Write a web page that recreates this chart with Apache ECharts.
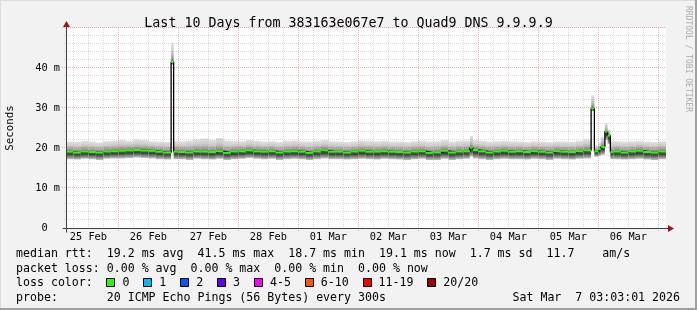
<!DOCTYPE html>
<html><head><meta charset="utf-8">
<script src="https://cdn.jsdelivr.net/npm/echarts@6/dist/echarts.min.js"></script>
<style>html,body{margin:0;padding:0;background:#f2f2f2}#c{width:697px;height:310px}</style>
</head><body><div id="c"></div>
<script>
// ---------- data (hours since 25 Feb 2026 00:00) ----------
const titleText = 'Last 10 Days from 383163e067e7 to Quad9 DNS 9.9.9.9';
const tStart = 3.05, tEnd = 243.05;
const yMax = 50;
const dayLabelHours = [12, 36, 60, 84, 108, 132, 156, 180, 204, 228];
const dayLabels = ['25 Feb','26 Feb','27 Feb','28 Feb','01 Mar','02 Mar','03 Mar','04 Mar','05 Mar','06 Mar'];
const gridHours = [6,12,18,24,30,36,42,48,54,60,66,72,78,84,90,96,102,108,114,120,126,132,138,144,150,156,162,168,174,180,186,192,198,204,210,216,222,228,234,240];
const gridValues = [2,4,6,8,10,12,14,16,18,20,22,24,26,28,30,32,34,36,38,40,42,44,46,48,50];

// segment start times (h) and per-segment median / smoke envelope (ms)
const segStart = [3.05,6,9,12,15,18,21,24,27,30,33,36,39,42,45.1,46.1,48,51,54,57,60,63,66,69,72,75,78,81,84,87,90,93,96,99,102,105,108,111,114,117,120,123,126,129,132,135,138,141,144,147,150,153,156,159,162,164.6,165.8,168,171,174,177,180,183,186,189,192,195,198,201,204,207,210,213.1,214.4,216.0,217.0,218.6,219.7,220.8,222,225,228,231,234,237,240];
const median   = [19.1,18.9,19.1,19.0,18.9,19.1,19.2,19.3,19.4,19.5,19.4,19.3,19.1,18.9,41.5,19.1,19.0,18.9,19.1,19.1,19.0,19.2,18.8,19.1,19.2,19.4,19.2,19.1,19.2,18.9,19.1,19.2,19.1,18.8,19.1,19.4,19.1,19.1,18.9,19.1,19.3,19.1,19.1,19.2,19.1,19.0,18.9,19.1,19.2,18.8,18.9,19.3,18.9,19.1,19.2,20.1,19.5,19.2,18.9,19.1,19.3,19.1,19.2,19.0,19.2,19.1,18.9,19.2,19.1,19.0,19.2,19.4,29.9,19.2,19.7,20.3,24.1,23.1,19.0,19.1,18.9,19.1,19.3,19.0,18.9,19.1];
const smokeLo  = [17.2,17.1,17.3,17.2,17.0,17.3,17.4,17.4,17.5,17.6,17.5,17.4,17.2,17.1,40.8,17.2,17.2,17.0,17.3,17.2,17.1,17.3,17.0,17.2,17.3,17.5,17.3,17.2,17.3,17.0,17.2,17.3,17.2,17.0,17.2,17.4,17.2,17.2,17.1,17.2,17.3,17.2,17.1,17.3,17.2,17.1,17.0,17.2,17.3,17.0,17.0,17.3,17.0,17.2,17.3,17.9,17.4,17.2,17.0,17.2,17.3,17.2,17.2,17.1,17.3,17.2,17.0,17.3,17.2,17.1,17.3,17.4,29.2,17.8,18.0,18.3,22.0,21.0,17.2,17.2,17.1,17.2,17.3,17.1,17.0,17.2];
const smokeHi  = [21.6,21.5,21.8,21.6,21.4,21.7,21.9,22.0,21.8,22.1,22.0,21.7,21.6,21.5,46.3,21.8,21.7,21.9,22.2,22.4,22.0,22.5,21.9,21.8,21.7,22.0,21.8,21.6,21.7,21.5,21.8,21.9,21.7,21.6,21.8,22.0,21.7,21.6,21.5,21.7,21.9,21.8,21.7,21.8,21.6,21.6,21.5,21.7,21.8,21.6,21.7,22.0,21.6,21.8,21.9,23.0,22.0,21.8,21.6,21.7,21.8,21.7,21.6,21.5,21.7,21.6,21.5,21.7,21.6,21.5,21.8,22.1,33.2,20.7,21.4,22.8,26.2,24.6,21.6,21.7,21.6,21.7,21.8,21.6,21.5,21.7];

const legendLine1 = 'median rtt:  19.2 ms avg  41.5 ms max  18.7 ms min  19.1 ms now  1.7 ms sd  11.7    am/s';
const legendLine2 = 'packet loss: 0.00 % avg  0.00 % max  0.00 % min  0.00 % now';
const lossLabels = ['0','1','2','3','4-5','6-10','11-19','20/20'];
const lossColors = ['#26ff00','#00b8ff','#0059ff','#5e00ff','#ff00ff','#ff5500','#ff0000','#a10000'];
const probeText = 'probe:       20 ICMP Echo Pings (56 Bytes) every 300s';
const dateText = 'Sat Mar  7 03:03:01 2026';
const watermark = 'RRDTOOL / TOBI OETIKER';

// ---------- chart ----------
const MONO = '"DejaVu Sans Mono", monospace';
const segs = segStart.map((s, i) => [s, i + 1 < segStart.length ? segStart[i + 1] : tEnd, median[i], smokeLo[i], smokeHi[i]]);
const stepData = segStart.map((s, i) => [s, median[i]]).concat([[tEnd, median[median.length - 1]]]);

function smokeFill(m) {
  const b = 1 - m;
  return new echarts.graphic.LinearGradient(0, 0, 0, 1, [
    {offset: 0, color: '#e2e2e2'},
    {offset: m * 0.4, color: '#cbcbcb'},
    {offset: m * 0.75, color: '#a2a2a2'},
    {offset: m, color: '#686868'},
    {offset: m + b * 0.35, color: '#3c3c3c'},
    {offset: m + b * 0.7, color: '#878787'},
    {offset: 1, color: '#c2c2c2'}
  ]);
}
const crisp = v => Math.round(v) + 0.5;

const chart = echarts.init(document.getElementById('c'), null, {renderer: 'canvas'});
const option = {
  animation: false,
  backgroundColor: '#f2f2f2',
  title: {text: titleText, left: 'center', top: 12,
    textStyle: {fontFamily: MONO, fontSize: 13.3, fontWeight: 'normal', color: '#000'}},
  grid: {left: 66, right: 31, top: 28, bottom: 82, show: true, backgroundColor: '#ffffff', borderWidth: 0},
  xAxis: {type: 'value', min: tStart, max: tEnd,
    axisLine: {show: false}, axisTick: {show: false}, splitLine: {show: false},
    axisLabel: {customValues: dayLabelHours, margin: 4, fontFamily: MONO, fontSize: 10.3, color: '#000',
      formatter: v => { const i = dayLabelHours.indexOf(v); return i >= 0 ? dayLabels[i] : ''; }}},
  yAxis: {type: 'value', min: 0, max: yMax, interval: 10,
    axisLine: {show: false}, axisTick: {show: false}, splitLine: {show: false},
    axisLabel: {margin: 6, fontFamily: MONO, fontSize: 10.3, color: '#000',
      formatter: v => v === 0 ? '0  ' : (v >= yMax ? '' : v + ' m')}},
  series: [
    {type: 'custom', name: 'smoke', z: 2, silent: true, data: segs, encode: {x: [0, 1], y: [2, 3, 4]},
      renderItem: (p, api) => {
        const s = api.value(0), e = api.value(1), med = api.value(2), lo = api.value(3), hi = api.value(4);
        const a = api.coord([s, hi]), b = api.coord([e, lo]);
        return {type: 'rect', shape: {x: a[0], y: a[1], width: b[0] - a[0], height: b[1] - a[1]},
          style: {fill: smokeFill((hi - med) / (hi - lo))}};
      }},
    {type: 'custom', name: 'vgrid', z: 3, silent: true, data: gridHours.map(h => [h, 0]), encode: {x: 0, y: 1},
      renderItem: (p, api) => {
        const h = api.value(0);
        const top = api.coord([h, yMax]), bot = api.coord([h, 0]);
        const major = h % 24 === 0;
        const x = crisp(top[0]);
        return {type: 'line', shape: {x1: x, y1: top[1], x2: x, y2: bot[1] + (major ? 3 : 2)},
          style: {stroke: major ? 'rgba(222,80,80,0.45)' : 'rgba(143,143,143,0.32)', lineWidth: 1, lineDash: [1, 1]}};
      }},
    {type: 'custom', name: 'hgrid', z: 3, silent: true, data: gridValues.map(v => [tStart, v]), encode: {x: 0, y: 1},
      renderItem: (p, api) => {
        const v = api.value(1);
        const l = api.coord([tStart, v]), r = api.coord([tEnd, v]);
        const major = v % 10 === 0;
        const y = crisp(l[1]) - 1;
        return {type: 'line', shape: {x1: l[0] - (major ? 4 : 2), y1: y, x2: r[0], y2: y},
          style: {stroke: major ? 'rgba(222,80,80,0.45)' : 'rgba(143,143,143,0.32)', lineWidth: 1, lineDash: [1, 1]}};
      }},
    {type: 'line', name: 'median-step', z: 4, silent: true, step: 'end', showSymbol: false, symbol: 'none',
      data: stepData, lineStyle: {color: '#000', width: 1.3}},
    {type: 'custom', name: 'median', z: 5, silent: true, data: segs, encode: {x: [0, 1], y: 2},
      renderItem: (p, api) => {
        const s = api.value(0), e = api.value(1), med = api.value(2);
        const a = api.coord([s, med]), b = api.coord([e, med]);
        return {type: 'rect', shape: {x: a[0], y: a[1] - 1, width: b[0] - a[0], height: 2}, style: {fill: '#26ff00'}};
      }}
  ]
};
chart.setOption(option);

// ---------- chrome: axes with arrows, legend, watermark ----------
const o = chart.convertToPixel({seriesIndex: 0}, [tStart, 0]);
const c = chart.convertToPixel({seriesIndex: 0}, [tEnd, yMax]);
const ax = Math.round(o[0]) + 0.5, ay = Math.round(o[1]) + 0.5;
const g = [];
g.push({type: 'line', z: 50, shape: {x1: ax - 4, y1: ay, x2: c[0] + 3, y2: ay}, style: {stroke: '#404040', lineWidth: 1}});
g.push({type: 'line', z: 50, shape: {x1: ax, y1: ay + 4, x2: ax, y2: c[1] - 2}, style: {stroke: '#404040', lineWidth: 1}});
g.push({type: 'polygon', z: 51, shape: {points: [[c[0] + 2, ay - 3.5], [c[0] + 8, ay], [c[0] + 2, ay + 3.5]]}, style: {fill: '#a01515'}});
g.push({type: 'polygon', z: 51, shape: {points: [[ax - 3.5, c[1] - 1], [ax, c[1] - 7], [ax + 3.5, c[1] - 1]]}, style: {fill: '#a01515'}});

// y-axis unit
g.push({type: 'text', z: 50, x: 10, y: 128, rotation: Math.PI / 2,
  style: {text: 'Seconds', font: '10.8px ' + MONO, fill: '#000', align: 'center', verticalAlign: 'middle'}});
// watermark
g.push({type: 'text', z: 50, x: 688, y: 59, rotation: -Math.PI / 2,
  style: {text: watermark, font: '8px ' + MONO, fill: '#aaaaaa', align: 'center', verticalAlign: 'middle'}});

const LF = '11.6px ' + MONO, CW = 6.96;
const lx = 16;
const rows = [254, 268.5, 283, 297.5];
g.push({type: 'text', z: 50, x: lx, y: rows[0], style: {text: legendLine1, font: LF, fill: '#000', verticalAlign: 'middle'}});
g.push({type: 'text', z: 50, x: lx, y: rows[1], style: {text: legendLine2, font: LF, fill: '#000', verticalAlign: 'middle'}});
g.push({type: 'text', z: 50, x: lx, y: rows[2], style: {text: 'loss color:', font: LF, fill: '#000', verticalAlign: 'middle'}});
let bx = lx + 13 * CW;
lossLabels.forEach((lab, i) => {
  g.push({type: 'rect', z: 50, shape: {x: Math.round(bx) + 0.5, y: rows[2] - 4.5, width: 8, height: 8},
    style: {fill: lossColors[i], stroke: '#000', lineWidth: 1}});
  g.push({type: 'text', z: 50, x: bx + 16, y: rows[2], style: {text: lab, font: LF, fill: '#000', verticalAlign: 'middle'}});
  bx += 16 + lab.length * CW + 2 * CW;
});
g.push({type: 'text', z: 50, x: lx, y: rows[3], style: {text: probeText, font: LF, fill: '#000', verticalAlign: 'middle'}});
g.push({type: 'text', z: 50, x: 680, y: rows[3], style: {text: dateText, font: LF, fill: '#000', align: 'right', verticalAlign: 'middle'}});

// frame
g.push({type: 'rect', z: 60, shape: {x: 0, y: 0, width: 697, height: 1}, style: {fill: '#dcdcdc'}});
g.push({type: 'rect', z: 60, shape: {x: 0, y: 0, width: 1, height: 310}, style: {fill: '#dcdcdc'}});
g.push({type: 'rect', z: 60, shape: {x: 0, y: 308, width: 697, height: 2}, style: {fill: '#a0a0a0'}});
g.push({type: 'rect', z: 60, shape: {x: 695, y: 0, width: 2, height: 310}, style: {fill: '#a0a0a0'}});

chart.setOption({graphic: g});
</script>
</body></html>
